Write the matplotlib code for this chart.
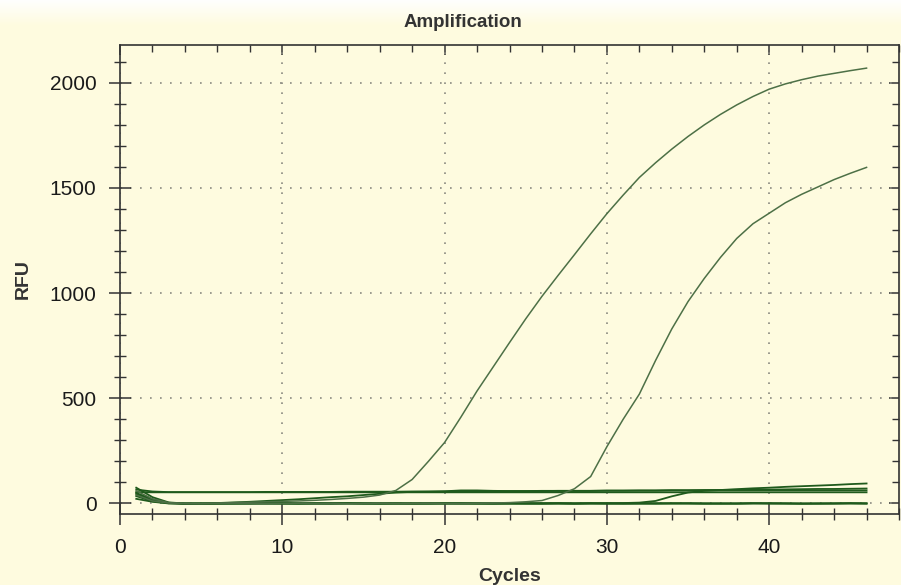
import numpy as np
import matplotlib.pyplot as plt
from matplotlib.ticker import MultipleLocator, NullFormatter
from matplotlib.colors import LinearSegmentedColormap

# cycles 1..46
cycles = list(range(1, 47))

# two amplifying wells
amp_high = [60, 22, 4, 0, 0, 2, 4, 6, 8, 10, 12, 15, 19, 24, 30, 40, 62, 114, 200, 290,
            410, 535, 650, 765, 878, 985, 1085, 1183, 1282, 1378, 1466, 1550, 1620, 1685, 1745, 1800,
            1850, 1895, 1935, 1970, 1995, 2015, 2032, 2045, 2058, 2070]
amp_low = [40, 12, 2, 0, -1, 0, 1, 0, -1, 0, 1, 0, 0, -1, 0, 1, 0, 0, 1, 0,
           0, 1, 2, 4, 8, 14, 38, 70, 128, 270, 400, 520, 680, 830, 960, 1070,
           1170, 1260, 1330, 1380, 1430, 1470, 1505, 1540, 1570, 1598]

# flat / drifting wells near 50-100
flat_a = [54, 53, 53, 53, 53, 53, 53, 53, 53, 53, 53, 53, 53, 53, 53, 53, 53, 53, 53, 53,
          53, 53, 53, 53, 53, 53, 53, 53, 53, 53, 53, 53, 53, 53, 53, 53,
          53, 53, 53, 53, 53, 53, 53, 53, 53, 53]
drift_a = [45, 15, 3, 0, 0, 2, 5, 8, 12, 16, 20, 25, 30, 34, 40, 46, 52, 55, 56, 58,
           62, 62, 60, 59, 59, 60, 60, 60, 60, 61, 61, 61, 61, 62, 62, 62,
           62, 62, 62, 62, 62, 62, 62, 62, 62, 62]
drift_b = [66, 57, 54, 54, 54, 54, 54, 54, 55, 55, 55, 55, 55, 56, 56, 56, 56, 57, 57, 57,
           58, 58, 58, 59, 59, 59, 60, 60, 60, 61, 61, 62, 62, 63, 63, 64,
           64, 65, 66, 66, 67, 68, 69, 69, 70, 71]
late_c = [35, 10, 1, 0, 0, -1, 0, 1, 0, 0, -1, 0, 0, 1, 0, 0, -1, 0, 0, 1,
          0, 0, 0, 1, 0, 0, 1, 0, 1, 1, 2, 4, 12, 34, 52, 60,
          64, 68, 72, 75, 79, 82, 85, 88, 92, 95]

# baseline wells
base_a = [75, 30, 5, 0, -2, -1, 0, 1, 0, -1, 0, 2, 1, 0, -1, 0, 1, 0, -1, 0,
          1, 0, -1, 0, 0, 1, 0, -1, 0, 1, 0, 0, -1, 0, 1, 0,
          0, -1, 0, 1, 0, 0, -1, 0, 1, 0]
base_b = [22, 8, 0, -1, 0, 1, 0, 0, 2, 1, 0, -1, 0, 1, 0, -1, 0, 0, 1, 0,
          -1, 0, 0, 1, 0, -1, 0, 0, 1, 0, -1, 0, 0, 1, 0, 0,
          -1, 0, 1, 0, 0, -1, 0, 0, 1, 0]
base_c = [50, 20, 2, -2, -1, 0, 0, -1, 0, 1, 0, 0, -1, 0, 1, 0, 0, -1, 0, 0,
          1, 0, 0, -1, 0, 0, 1, 0, 0, -1, 0, 0, 1, 0, 0, -1,
          0, 0, 1, 0, 0, -1, 0, 0, 0, 0]

bg = '#fefbdf'
line_col = '#1f5a1c'
amp_col = '#4d7046'
ink = '#333333'

plt.rcParams['font.family'] = ['Liberation Sans', 'DejaVu Sans']

fig = plt.figure(figsize=(9.01, 5.85), dpi=100, facecolor=bg)

# soft white fade at top of the window
fade = fig.add_axes([0, 0.955, 1, 0.045], zorder=-1)
grad = np.linspace(0, 1, 50).reshape(-1, 1)
fade.imshow(grad, aspect='auto', cmap=LinearSegmentedColormap.from_list('f', [bg, '#ffffff']),
            origin='lower', extent=[0, 1, 0, 1])
fade.axis('off')

ax = fig.add_axes([0.1332, 0.1214, 0.8646, 0.8017])
ax.set_facecolor(bg)

for s in [base_a, base_b, base_c, flat_a, drift_a, drift_b, late_c]:
    ax.plot(cycles, s, color=line_col, lw=1.3)
ax.plot(cycles, amp_high, color=amp_col, lw=1.1)
ax.plot(cycles, amp_low, color=amp_col, lw=1.1)

ax.set_xlim(0, 48)
ax.set_ylim(-50, 2180)
ax.xaxis.set_major_locator(MultipleLocator(10))
ax.xaxis.set_minor_locator(MultipleLocator(2))
ax.yaxis.set_major_locator(MultipleLocator(500))
ax.yaxis.set_minor_locator(MultipleLocator(100))

ax.tick_params(which='major', direction='inout', length=16, width=1.1, labelsize=15,
               colors=ink, labelcolor='#1a1a1a', pad=9)
ax.tick_params(which='minor', direction='inout', length=9, width=1.0, colors=ink)

# top and right: inward ticks only
top = ax.secondary_xaxis('top')
top.xaxis.set_major_locator(MultipleLocator(10))
top.xaxis.set_minor_locator(MultipleLocator(2))
top.xaxis.set_major_formatter(NullFormatter())
top.tick_params(which='major', direction='in', length=7, width=1.1, colors=ink)
top.tick_params(which='minor', direction='in', length=5, width=1.0, colors=ink)
right = ax.secondary_yaxis('right')
right.yaxis.set_major_locator(MultipleLocator(500))
right.yaxis.set_minor_locator(MultipleLocator(100))
right.yaxis.set_major_formatter(NullFormatter())
right.tick_params(which='major', direction='in', length=7, width=1.1, colors=ink)
right.tick_params(which='minor', direction='in', length=5, width=1.0, colors=ink)
top.spines['top'].set_visible(False)
right.spines['right'].set_visible(False)

ax.grid(True, which='major', color='#8a8a80', linestyle=(0, (1, 5)), lw=1.2)

for sp in ax.spines.values():
    sp.set_color(ink)
    sp.set_linewidth(1.2)

ax.set_xlabel('Cycles', fontsize=14, fontweight='bold', color=ink, labelpad=8)
ax.set_ylabel('RFU', fontsize=14, fontweight='bold', color=ink, labelpad=13)
fig.text(0.514, 0.962, 'Amplification', ha='center', va='center',
         fontsize=13.5, fontweight='bold', color=ink)

fig.savefig('out.png', dpi=100, facecolor=bg)
